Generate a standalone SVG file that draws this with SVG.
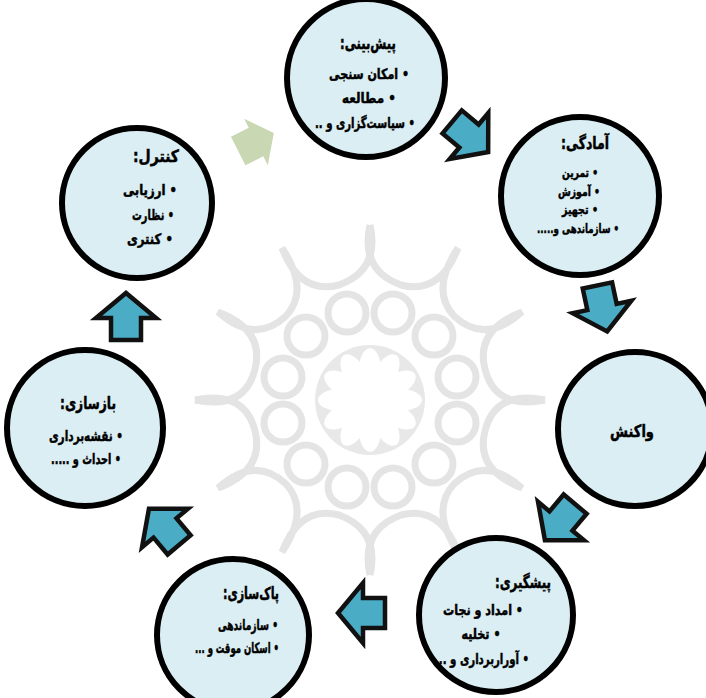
<svg xmlns="http://www.w3.org/2000/svg" width="706" height="698" viewBox="0 0 706 698">
<style>
.node circle{fill:#daeef3;stroke:#000;stroke-width:6}
text{font-family:"DejaVu Sans",sans-serif;font-weight:bold;fill:#000;stroke:#000;stroke-width:0.5;direction:rtl;unicode-bidi:embed;text-anchor:middle}
.t{font-size:17px}
.i{font-size:14.5px}
.s{font-size:12.5px}
.ba{fill:#4bacc6;stroke:#111;stroke-width:4.5;stroke-linejoin:miter}
.ga{fill:#c9d8b3;stroke:none}
.wm{fill:none;stroke:#e4e4e4;stroke-width:7}
</style>
<defs>
<path id="arr" d="M-22,-15 L0,-15 L0,-30 L25,0 L0,30 L0,15 L-22,15 Z"/>
<path id="garr" d="M-20,-16 L0,-16 L0,-26 L20,0 L0,26 L0,16 L-20,16 Z"/>
</defs>
<rect width="706" height="698" fill="#fff"/>
<g id="watermark">
<circle cx="370" cy="400" r="55" fill="#e8e8e8"/>
<g id="rosette" transform="translate(370 400)">
<path class="wm" d="M0,-175 Q10,-130 -31,-115 Q-70,-105 -88,-152 Q-60,-110 -84,-84 Q-115,-55 -152,-88 Q-105,-70 -115,-31 Q-125,10 -175,0"/>
<path class="wm" d="M0,-175 Q-10,-130 31,-115 Q70,-105 88,-152 Q60,-110 84,-84 Q115,-55 152,-88 Q105,-70 115,-31 Q125,10 175,0"/>
<path class="wm" d="M0,175 Q10,130 -31,115 Q-70,105 -88,152 Q-60,110 -84,84 Q-115,55 -152,88 Q-105,70 -115,31 Q-125,-10 -175,0"/>
<path class="wm" d="M0,175 Q-10,130 31,115 Q70,105 88,152 Q60,110 84,84 Q115,55 152,88 Q105,70 115,31 Q125,-10 175,0"/>
<g class="wm">
<circle cx="23" cy="-87" r="19"/><circle cx="-23" cy="-87" r="19"/>
<circle cx="64" cy="-64" r="19"/><circle cx="-64" cy="-64" r="19"/>
<circle cx="87" cy="-23" r="19"/><circle cx="-87" cy="-23" r="19"/>
<circle cx="87" cy="23" r="19"/><circle cx="-87" cy="23" r="19"/>
<circle cx="64" cy="64" r="19"/><circle cx="-64" cy="64" r="19"/>
<circle cx="23" cy="87" r="19"/><circle cx="-23" cy="87" r="19"/>
</g>
<g fill="#fff">
<ellipse cx="0" cy="-30" rx="11" ry="22"/>
<ellipse cx="0" cy="-30" rx="11" ry="22" transform="rotate(30)"/>
<ellipse cx="0" cy="-30" rx="11" ry="22" transform="rotate(60)"/>
<ellipse cx="0" cy="-30" rx="11" ry="22" transform="rotate(90)"/>
<ellipse cx="0" cy="-30" rx="11" ry="22" transform="rotate(120)"/>
<ellipse cx="0" cy="-30" rx="11" ry="22" transform="rotate(150)"/>
<ellipse cx="0" cy="-30" rx="11" ry="22" transform="rotate(180)"/>
<ellipse cx="0" cy="-30" rx="11" ry="22" transform="rotate(210)"/>
<ellipse cx="0" cy="-30" rx="11" ry="22" transform="rotate(240)"/>
<ellipse cx="0" cy="-30" rx="11" ry="22" transform="rotate(270)"/>
<ellipse cx="0" cy="-30" rx="11" ry="22" transform="rotate(300)"/>
<ellipse cx="0" cy="-30" rx="11" ry="22" transform="rotate(330)"/>
<circle r="22"/>
</g>
</g>
</g>
<g id="node-pishbini" class="node">
<circle cx="366" cy="78" r="79"/>
<text class="t" x="368" y="49" textLength="56" lengthAdjust="spacingAndGlyphs">پیش‌بینی:</text>
<text class="i" x="369" y="79" textLength="80" lengthAdjust="spacingAndGlyphs">• امکان سنجی</text>
<text class="i" x="369" y="103" textLength="54" lengthAdjust="spacingAndGlyphs">• مطالعه</text>
<text class="i" x="365" y="128" textLength="100" lengthAdjust="spacingAndGlyphs">• سیاست‌گزاری و ..</text>
</g>
<g id="node-amadegi" class="node">
<circle cx="580" cy="196" r="79"/>
<text class="t" x="585" y="149" textLength="48" lengthAdjust="spacingAndGlyphs">آمادگی:</text>
<text class="s" x="580" y="177" textLength="36" lengthAdjust="spacingAndGlyphs">• تمرین</text>
<text class="s" x="579" y="196" textLength="42" lengthAdjust="spacingAndGlyphs">• آموزش</text>
<text class="s" x="580" y="214" textLength="36" lengthAdjust="spacingAndGlyphs">• تجهیز</text>
<text class="s" x="578" y="233" textLength="82" lengthAdjust="spacingAndGlyphs">• سازماندهی و.....</text>
</g>
<g id="node-vakonesh" class="node">
<circle cx="635" cy="429" r="77"/>
<text class="t" x="632" y="437" textLength="44" lengthAdjust="spacingAndGlyphs">واکنش</text>
</g>
<g id="node-pishgiri" class="node">
<circle cx="496" cy="615" r="77"/>
<text class="t" x="523" y="588" textLength="56" lengthAdjust="spacingAndGlyphs">پیشگیری:</text>
<text class="i" x="483" y="615" textLength="80" lengthAdjust="spacingAndGlyphs">• امداد و نجات</text>
<text class="i" x="481" y="639" textLength="39" lengthAdjust="spacingAndGlyphs">• تخلیه</text>
<text class="i" x="482" y="664" textLength="94" lengthAdjust="spacingAndGlyphs">• آوراربرداری و ...</text>
</g>
<g id="node-paksazi" class="node">
<circle cx="233" cy="635" r="76"/>
<text class="t" x="251" y="599" textLength="56" lengthAdjust="spacingAndGlyphs">پاک‌سازی:</text>
<text class="i" x="248" y="630" textLength="60" lengthAdjust="spacingAndGlyphs">• سازماندهی</text>
<text class="i" x="237" y="653" textLength="84" lengthAdjust="spacingAndGlyphs">• اسکان موقت و ...</text>
</g>
<g id="node-bazsazi" class="node">
<circle cx="85" cy="428" r="78"/>
<text class="t" x="88" y="409" textLength="56" lengthAdjust="spacingAndGlyphs">بازسازی:</text>
<text class="i" x="86" y="441" textLength="74" lengthAdjust="spacingAndGlyphs">• نقشه‌برداری</text>
<text class="i" x="86" y="464" textLength="70" lengthAdjust="spacingAndGlyphs">• احداث و .....</text>
</g>
<g id="node-control" class="node">
<circle cx="137" cy="203" r="75"/>
<text class="t" x="156" y="162" textLength="46" lengthAdjust="spacingAndGlyphs">کنترل:</text>
<text class="i" x="150" y="195" textLength="54" lengthAdjust="spacingAndGlyphs">• ارزیابی</text>
<text class="i" x="153" y="220" textLength="42" lengthAdjust="spacingAndGlyphs">• نظارت</text>
<text class="i" x="150" y="244" textLength="46" lengthAdjust="spacingAndGlyphs">• کنتری</text>
</g>
<g id="connectors">
<use href="#garr" class="ga" transform="translate(256 142) rotate(-27)"/>
<use href="#arr" class="ba" transform="translate(469 136) rotate(40)"/>
<use href="#arr" class="ba" transform="translate(602 307) rotate(78)"/>
<use href="#arr" class="ba" transform="translate(561 521) rotate(130)"/>
<use href="#arr" class="ba" transform="translate(363 613) rotate(180)"/>
<use href="#arr" class="ba" transform="translate(165 528) rotate(-130)"/>
<use href="#arr" class="ba" transform="translate(126 318) rotate(-90)"/>
</g>
</svg>
